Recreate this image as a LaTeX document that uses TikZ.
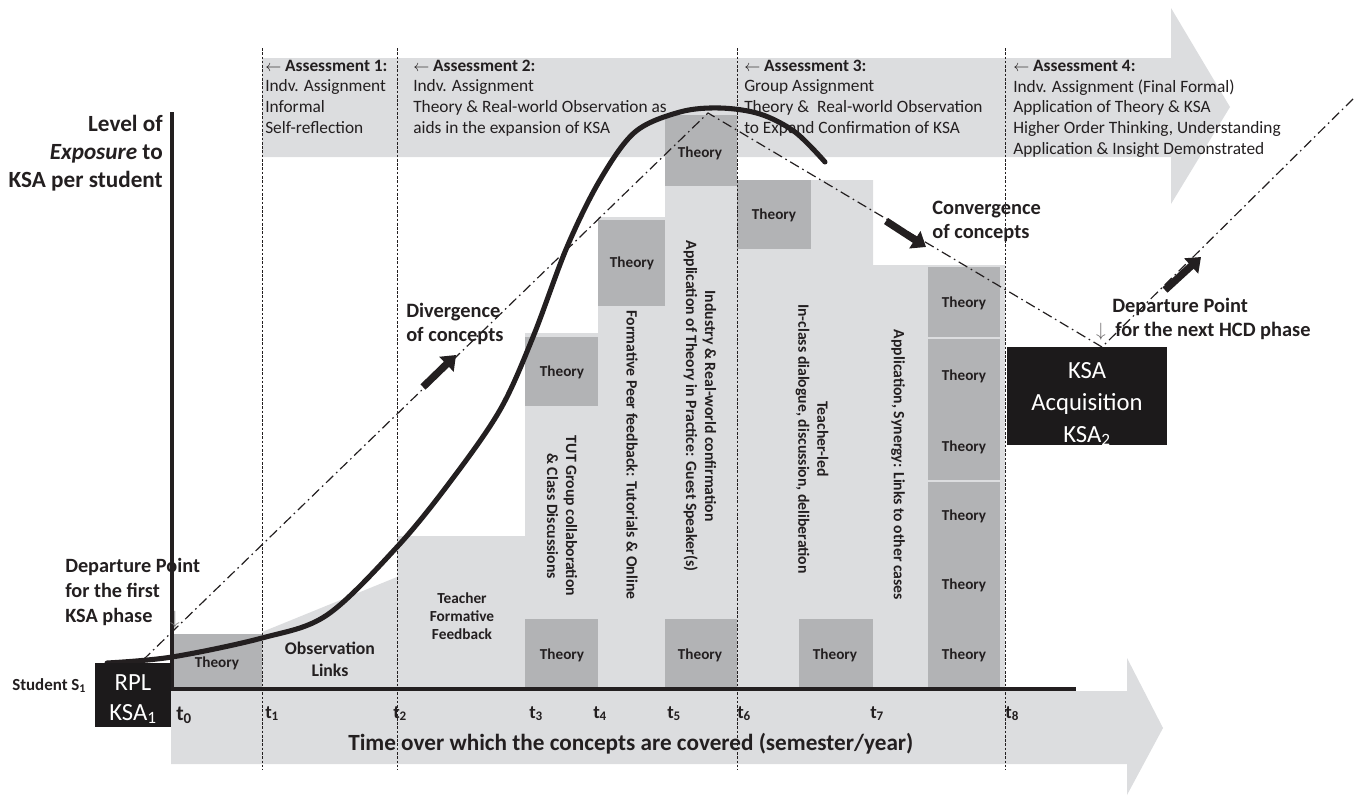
\documentclass[tikz,border=0pt]{standalone}
\usepackage{fontspec}
\setmainfont{Carlito}
\usetikzlibrary{arrows.meta}
\definecolor{lg}{RGB}{220,221,223}
\definecolor{dg}{RGB}{178,179,181}
\definecolor{ink}{RGB}{35,31,32}
\definecolor{boxk}{RGB}{28,26,27}
\definecolor{arrg}{RGB}{120,120,120}
\tikzset{
 thlabel/.style={inner sep=0pt, font=\fontsize{11.4}{13}\selectfont\bfseries, text=ink},
 vtext/.style={rotate=-90, align=center, inner sep=0pt, font=\fontsize{11.8}{14.3}\selectfont\bfseries, text=ink},
 assess/.style={anchor=base west, align=left, inner sep=0pt, font=\fontsize{13}{15.5}\selectfont, text=ink},
 lbl/.style={anchor=base west, align=left, inner sep=0pt, font=\fontsize{15.3}{17.3}\selectfont\bfseries, text=ink},
 midlbl/.style={anchor=base, align=center, inner sep=0pt, text=ink},
 tick/.style={anchor=base west, inner sep=0pt, font=\fontsize{14}{16}\selectfont\bfseries, text=ink},
 dashv/.style={dash pattern=on 2pt off 1.2pt, line width=0.6pt, ink},
 dashdot/.style={line width=0.9pt, dash pattern=on 7.5pt off 3pt on 1.2pt off 3pt, ink},
 fat/.style={line width=5.5pt, -{Triangle[length=10pt,width=15pt]}, ink},
 blackbox/.style={fill=boxk, draw=none},
 wtxt/.style={anchor=base, align=center, inner sep=0pt, text=white, font=\fontsize{18.5}{24}\selectfont},
}
\begin{document}
\begin{tikzpicture}[x=0.75pt,y=-0.75pt]
\useasboundingbox (0,0) rectangle (1363,796);
% big background arrows
\fill[lg] (262,58) -- (1171,58) -- (1171,8) -- (1230,107) -- (1171,204) -- (1171,157) -- (262,157) -- cycle;
\fill[lg] (171,691) -- (1127,691) -- (1127,658) -- (1163,728) -- (1127,795) -- (1127,764) -- (171,764) -- cycle;
% staircase
\fill[lg] (262,689) -- (262,632) -- (397,577) -- (397,536) -- (525,536) -- (525,333) -- (598,333) -- (598,217) -- (665,217) -- (665,186) -- (737,186) -- (737,180) -- (873,180) -- (873,265) -- (1005,265) -- (1005,689) -- cycle;
% theory boxes
\fill[dg] (172,634) rectangle (262,689);
\fill[dg] (525,619) rectangle (598,689);
\fill[dg] (525,337) rectangle (598,406);
\fill[dg] (598,220) rectangle (665,306);
\fill[dg] (665,619) rectangle (737,689);
\fill[dg] (665,115) rectangle (737,186);
\fill[dg] (737,180) rectangle (811,249);
\fill[dg] (799,619) rectangle (873,689);
\fill[dg] (928,267) rectangle (1000,689);
\draw[lg, line width=1.5pt] (928,338) -- (1000,338);
\draw[lg, line width=0.8pt] (928,481) -- (1000,481);
\node[thlabel] (th0) at (217,663) {Theory};
\node[thlabel] (th3a) at (562,655) {Theory};
\node[thlabel] (th3b) at (562,372) {Theory};
\node[thlabel] (th4) at (632,263) {Theory};
\node[thlabel] (th5a) at (700,655) {Theory};
\node[thlabel] (th5b) at (700,153) {Theory};
\node[thlabel] (th6) at (774,215) {Theory};
\node[thlabel] (th7) at (835,655) {Theory};
\node[thlabel] (c1) at (964,303) {Theory};
\node[thlabel] (c2) at (964,376) {Theory};
\node[thlabel] (c3) at (964,447) {Theory};
\node[thlabel] (c4) at (964,516) {Theory};
\node[thlabel] (c5) at (964,585) {Theory};
\node[thlabel] (c6) at (964,655) {Theory};
% dashed verticals
\foreach \x in {262,397,737,1005} \draw[dashv] (\x,48) -- (\x,770);
% axes
\draw[line width=2.3pt, ink] (171,689) -- (1076,689);
\draw[line width=2.3pt, ink] (172,112) -- (172,689);
% assessment texts (anchor = baseline of last line)
\node[assess] (a1) at (265,133) {$\leftarrow$ \textbf{Assessment 1:}\\Indv. Assignment\\Informal\\Self-reflection};
\node[assess] (a2) at (413,133) {$\leftarrow$ \textbf{Assessment 2:}\\Indv. Assignment\\Theory \& Real-world Observation as\\aids in the expansion of KSA};
\node[assess] (a3) at (744,133) {$\leftarrow$ \textbf{Assessment 3:}\\Group Assignment\\Theory \&\ \ Real-world Observation\\to Expand Confirmation of KSA};
\node[assess] (a4) at (1013,154) {$\leftarrow$ \textbf{Assessment 4:}\\Indv. Assignment (Final Formal)\\Application of Theory \& KSA\\Higher Order Thinking, Understanding\\Application \& Insight Demonstrated};
% vertical texts
\node[vtext] (v1) at (562,516) {TUT Group collaboration\\\& Class Discussions};
\node[vtext] (v2) at (632,455) {Formative Peer feedback: Tutorials \& Online};
\node[vtext] (v3) at (700,406) {Industry \& Real-world confirmation\\Application of Theory in Practice: Guest Speaker(s)};
\node[vtext] (v4) at (812,439) {Teacher-led\\In-class dialogue, discussion, deliberation};
\node[vtext] (v5) at (898,465) {Application, Synergy: Links to other cases};
\node[midlbl, font=\fontsize{13.3}{15.8}\selectfont\bfseries] (obs) at (330,676) {Observation\\Links};
\node[midlbl, font=\fontsize{11.5}{13.5}\selectfont\bfseries] (tff) at (462,639) {Teacher\\Formative\\Feedback};
% curve
\draw[line width=3.8pt, ink, line cap=round] plot[smooth, tension=0.55] coordinates {(107,663) (172,657) (262,638) (327,615) (397,547) (450,482) (500,410) (533,337) (567,247) (600,180) (635,132) (680,112) (720,108) (760,114) (795,132) (825,162)};
% dash-dot lines
\coordinate (d0) at (143,660);
\coordinate (pk) at (708,113);
\coordinate (vl) at (1102,347);
\coordinate (de) at (1355,97);
\draw[dashdot] (d0) -- (pk) -- (vl) -- (de);
\coordinate (f1a) at (423,387); \coordinate (f1b) at (456,355);
\coordinate (f2a) at (886,221); \coordinate (f2b) at (926,247);
\coordinate (f3a) at (1165,290); \coordinate (f3b) at (1201,257);
\draw[fat] (f1a) -- (f1b);
\draw[fat] (f2a) -- (f2b);
\draw[fat] (f3a) -- (f3b);
% labels
\node[anchor=base east, align=right, inner sep=0pt, font=\fontsize{17.4}{21}\selectfont\bfseries, text=ink] (yl) at (163,187) {Level of\\\textit{Exposure} to\\KSA per student};
\node[lbl, font=\fontsize{15.2}{18.4}\selectfont\bfseries] (dp1) at (65,622) {Departure Point\\for the first\\KSA phase};
\node[anchor=base, inner sep=0pt, text=arrg, font=\fontsize{14}{16}\selectfont] (ar1) at (175,624) {$\downarrow$};
\node[lbl] (div) at (406,341) {Divergence\\of concepts};
\node[lbl] (conv) at (932,238) {Convergence\\of concepts};
\node[lbl] (dp2) at (1112,312) {Departure Point};
\node[lbl] (dp2b) at (1115,336) {for the next HCD phase};
\node[anchor=base, inner sep=0pt, text=ink!70, font=\fontsize{14}{16}\selectfont] (ar2) at (1101,336) {$\downarrow$};
\node[anchor=base west, inner sep=0pt, font=\fontsize{12.7}{14}\selectfont\bfseries, text=ink] (st) at (12,690) {Student S\textsubscript{1}};
% black boxes
\fill[blackbox] (95,663) rectangle (171,727);
\node[wtxt] (rpl) at (133,690) {RPL};
\node[wtxt] (ksa1) at (133,720) {KSA\textsubscript{1}};
\fill[blackbox] (1007,347) rectangle (1167,445);
\node[wtxt] (ksa2) at (1087,442) {KSA\\Acquisition\\KSA\textsubscript{2}};
% ticks
\node[tick, font=\fontsize{16}{18}\selectfont\bfseries] (t0) at (176,720) {t\textsubscript{0}};
\node[tick] (t1) at (265,718) {t\textsubscript{1}};
\node[tick] (t2) at (393,718) {t\textsubscript{2}};
\node[tick] (t3) at (529,718) {t\textsubscript{3}};
\node[tick] (t4) at (593,718) {t\textsubscript{4}};
\node[tick] (t5) at (667,718) {t\textsubscript{5}};
\node[tick] (t6) at (737,718) {t\textsubscript{6}};
\node[tick] (t7) at (870,718) {t\textsubscript{7}};
\node[tick] (t8) at (1005,718) {t\textsubscript{8}};
\node[anchor=base west, inner sep=0pt, font=\fontsize{17.4}{19}\selectfont\bfseries, text=ink] (tx) at (348,750) {Time over which the concepts are covered (semester/year)};
\end{tikzpicture}
\end{document}
